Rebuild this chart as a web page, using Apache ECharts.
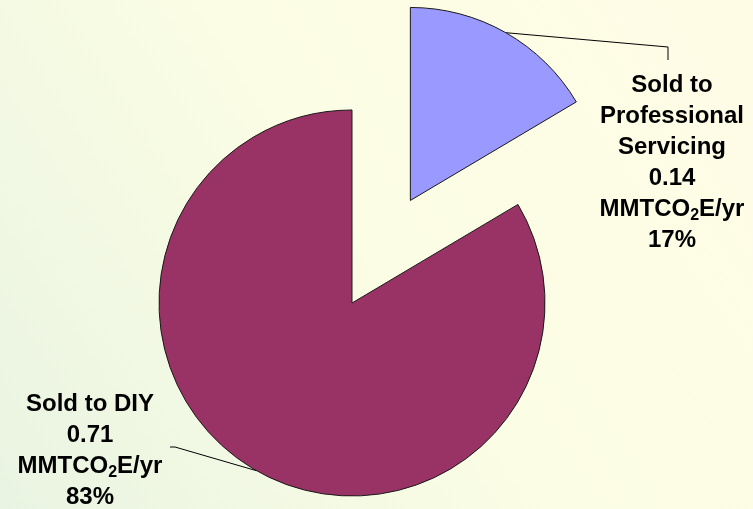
<!DOCTYPE html>
<html>
<head>
<meta charset="utf-8">
<script src="https://cdn.jsdelivr.net/npm/echarts@6/dist/echarts.min.js"></script>
<style>
  html, body { margin: 0; padding: 0; }
  #chart { width: 753px; height: 509px; }
</style>
</head>
<body>
<div id="chart"></div>
<script>
// Emissions split by sales channel (MMTCO2E per year)
const categories = ['Sold to\nProfessional\nServicing', 'Sold to DIY'];
const emissions = [0.14, 0.71];
const percentLabels = ['17%', '83%'];
const sliceColors = ['#9999ff', '#993366'];

const total = emissions.reduce((a, b) => a + b, 0);

const pieCenter = [352, 303];
const pieRadius = 193;
const explodeDistance = 118;   // pull-out of the first slice
const explodedIndex = 0;

// Mid angle of the exploded slice (pie starts at 12 o'clock, clockwise)
let before = 0;
for (let i = 0; i < explodedIndex; i++) before += emissions[i];
const midFrac = (before + emissions[explodedIndex] / 2) / total;
const midRad = (90 - midFrac * 360) * Math.PI / 180;
const explodedCenter = [
  pieCenter[0] + explodeDistance * Math.cos(midRad),
  pieCenter[1] - explodeDistance * Math.sin(midRad)
];

// Where each label block sits (centre x, top y)
const labelAnchors = [
  { x: 672, y: 70 },
  { x: 90, y: 389 }
];

const fontFamily = 'Liberation Sans, Arial, sans-serif';

const labelStyle = {
  show: true,
  position: 'outside',
  color: '#000',
  fontFamily: fontFamily,
  fontWeight: 'bold',
  fontSize: 24,
  lineHeight: 31,
  align: 'center',
  formatter: function (p) {
    return p.name + '\n' + p.value.toFixed(2) + '\nMMTCO{sub|2}E/yr\n' + percentLabels[p.dataIndex];
  },
  rich: {
    sub: {
      fontFamily: fontFamily,
      fontWeight: 'bold',
      fontSize: 16,
      lineHeight: 31,
      padding: [12, 0, 0, 0],
      color: '#000'
    }
  }
};

function layoutLabel(params) {
  const a = labelAnchors[params.dataIndex];
  const start = params.labelLinePoints ? params.labelLinePoints[0] : null;
  const out = { x: a.x, y: a.y, align: 'center', verticalAlign: 'top' };
  if (start) {
    if (params.dataIndex === 0) {
      out.labelLinePoints = [start, [a.x - 4, a.y - 23], [a.x - 4, a.y - 10]];
    } else {
      out.labelLinePoints = [start, [a.x + 85, a.y + 58], [a.x + 80, a.y + 58]];
    }
  }
  return out;
}

// One pie series per slice position; each shows only its own slice
function pieSeries(center, visibleIndex) {
  return {
    type: 'pie',
    center: center,
    radius: pieRadius,
    startAngle: 90,
    clockwise: true,
    avoidLabelOverlap: false,
    silent: true,
    label: labelStyle,
    labelLine: {
      show: true,
      length: 10,
      length2: 10,
      lineStyle: { color: '#000', width: 1 }
    },
    labelLayout: layoutLabel,
    data: categories.map((name, i) => {
      const shown = visibleIndex(i);
      return {
        name: name,
        value: emissions[i],
        itemStyle: shown
          ? { color: sliceColors[i], borderColor: '#1a1a1a', borderWidth: 1 }
          : { color: 'rgba(0,0,0,0)', borderWidth: 0 },
        label: { show: shown },
        labelLine: { show: shown }
      };
    })
  };
}

const chart = echarts.init(document.getElementById('chart'));

chart.setOption({
  backgroundColor: {
    type: 'linear', x: 1, y: 0, x2: 0, y2: 1,
    colorStops: [
      { offset: 0, color: '#fffce6' },
      { offset: 0.5, color: '#fbfde4' },
      { offset: 1, color: '#e9f4e2' }
    ]
  },
  animation: false,
  series: [
    pieSeries(pieCenter, i => i !== explodedIndex),
    pieSeries(explodedCenter, i => i === explodedIndex)
  ]
});
</script>
</body>
</html>
